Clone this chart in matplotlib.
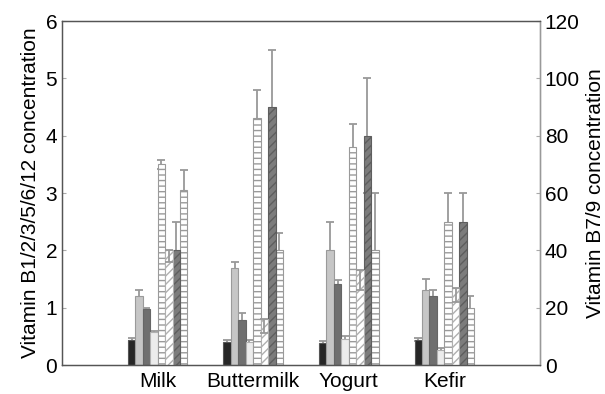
import numpy as np
import matplotlib.pyplot as plt

plt.rcParams['font.family'] = ['Liberation Sans', 'DejaVu Sans']

# Data
products = ['Milk', 'Buttermilk', 'Yogurt', 'Kefir']

# left axis vitamins (B1, B2, B3, B5, B6, B12)
b1 = [0.44, 0.40, 0.38, 0.44]
b1_err = [0.03, 0.03, 0.03, 0.03]
b2 = [1.2, 1.7, 2.0, 1.3]
b2_err = [0.1, 0.1, 0.5, 0.2]
b3 = [0.97, 0.78, 1.42, 1.2]
b3_err = [0.02, 0.13, 0.07, 0.1]
b5 = [0.57, 0.40, 0.46, 0.27]
b5_err = [0.03, 0.03, 0.04, 0.03]
b6 = [3.5, 4.3, 3.8, 2.5]
b6_err = [0.08, 0.5, 0.4, 0.5]
b12 = [3.05, 2.0, 2.0, 1.0]
b12_err = [0.35, 0.3, 1.0, 0.2]

# right axis vitamins (B7, B9)
b7 = [40, 16, 33, 27]
b7_err = [4, 5, 7, 5]
b9 = [40, 90, 80, 50]
b9_err = [10, 20, 20, 10]

x = np.arange(1, len(products) + 1)
w = 0.078
off = lambda i: (i - 3.5) * w

fig = plt.figure(figsize=(6.05, 3.94), dpi=100)
ax = fig.add_axes([0.1025, 0.0736, 0.79, 0.873])
ax2 = ax.twinx()

ecol = '#999999'
ekw = dict(ecolor=ecol, elinewidth=1.3, capsize=3, capthick=1.3)

left_series = [
    (0, b1, b1_err, dict(color='#262626', edgecolor='#555555')),
    (1, b2, b2_err, dict(color='#c6c6c6', edgecolor='#9a9a9a')),
    (2, b3, b3_err, dict(color='#6f6f6f', edgecolor='#666666')),
    (3, b5, b5_err, dict(color='#ececec', edgecolor='#b0b0b0')),
    (4, b6, b6_err, dict(color='white', edgecolor='#9a9a9a', hatch='---')),
    (7, b12, b12_err, dict(color='white', edgecolor='#9a9a9a', hatch='---')),
]
# error bars sit behind the bars, so only the upper half shows
for i, vals, err, st in left_series:
    ax.errorbar(x + off(i), vals, yerr=err, fmt='none', zorder=1, **ekw)
    ax.bar(x + off(i), vals, w, linewidth=0.8, zorder=2, **st)

# B7 / B9 on the right axis
ax2.errorbar(x + off(6), b9, yerr=b9_err, fmt='none', zorder=1, **ekw)
ax2.bar(x + off(6), b9, w, color='#7c7c7c', edgecolor='#5e5e5e', hatch='////',
        linewidth=0.8, zorder=2)
ax2.bar(x + off(5), b7, w, color='white', edgecolor='#b0b0b0', hatch='////',
        linewidth=0.8, zorder=2)
ax2.errorbar(x + off(5), b7, yerr=[b7_err, [0] * 4], fmt='none', zorder=3, **ekw)

fs = 15
ax.set_xlim(0, 5)
ax.set_ylim(0, 6)
ax2.set_ylim(0, 120)
ax.set_xticks(x)
ax.set_xticklabels(products)
ax.set_yticks(range(0, 7))
ax2.set_yticks(range(0, 121, 20))
ax.tick_params(axis='x', length=0, labelsize=fs, pad=5)
ax.tick_params(axis='y', direction='in', length=3, color='#aaaaaa', labelsize=fs)
ax2.tick_params(axis='y', direction='in', length=3, color='#aaaaaa', labelsize=fs)

ax.set_ylabel('Vitamin B1/2/3/5/6/12 concentration', fontsize=fs, labelpad=4)
ax2.set_ylabel('Vitamin B7/9 concentration', fontsize=fs, labelpad=4)

for a in (ax, ax2):
    for s in a.spines.values():
        s.set_color('#555555')
        s.set_linewidth(0.9)
ax2.spines['right'].set_color('#999999')

fig.savefig('out.png', dpi=100)
